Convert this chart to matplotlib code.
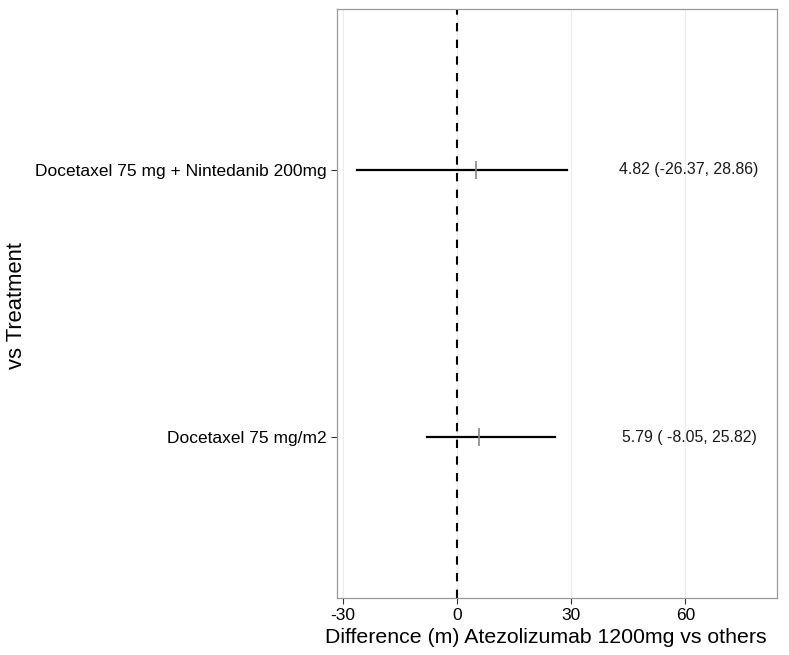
import matplotlib
matplotlib.use("Agg")
import matplotlib.pyplot as plt

plt.rcParams['font.family'] = ['Liberation Sans', 'DejaVu Sans']

treatments = ["Docetaxel 75 mg/m2", "Docetaxel 75 mg + Nintedanib 200mg"]
estimate = [5.79, 4.82]
lower = [-8.05, -26.37]
upper = [25.82, 28.86]
labels = ["5.79 ( -8.05, 25.82)", "4.82 (-26.37, 28.86)"]
xticks = [-30, 0, 30, 60]

fig = plt.figure(figsize=(7.89, 6.55), dpi=100)
ax = fig.add_axes([337/789, 1 - 598/655, (777-337)/789, (598-9)/655])

ypos = list(range(1, len(treatments) + 1))

for x in xticks:
    ax.axvline(x, color="#ebebeb", lw=0.8, zorder=0)

ax.axvline(0, color="black", lw=1.5, ls=(0, (4, 4)), zorder=1)

for y, lo, hi, est, lab in zip(ypos, lower, upper, estimate, labels):
    ax.plot([lo, hi], [y, y], color="black", lw=1.6, zorder=2)
    ax.plot([est], [y], marker="|", color="#888888", ms=13, mew=1.2, zorder=3)
    ax.text(61, y, lab, ha="center", va="center", fontsize=11.4, color="#1a1a1a")

ax.set_xlim(-31.6, 84.1)
ax.set_ylim(0.4, len(treatments) + 0.6)
ax.set_xticks(xticks)
ax.set_xticklabels([str(v) for v in xticks])
ax.set_yticks(ypos)
ax.set_yticklabels(treatments)

ax.tick_params(axis="both", labelsize=12.5, colors="#333333", length=4, width=0.8,
               labelcolor="black")
for s in ax.spines.values():
    s.set_color("#999999")
    s.set_linewidth(0.9)

ax.set_xlabel("Difference (m) Atezolizumab 1200mg vs others", fontsize=15.3)
ax.set_ylabel("vs Treatment", fontsize=15.8)
ax.xaxis.set_label_coords(0.474, -0.051)
ax.yaxis.set_label_coords(-0.705, 0.497)

fig.savefig("out.png", dpi=100)
